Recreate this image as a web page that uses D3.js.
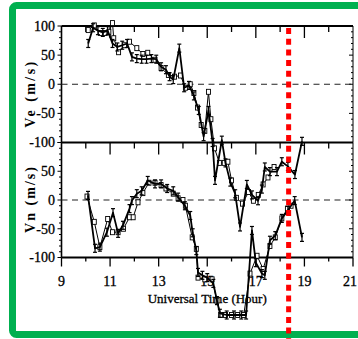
<!DOCTYPE html>
<html>
<head>
<meta charset="utf-8">
<script src="https://cdn.jsdelivr.net/npm/d3@7"></script>
<style>
  html, body { margin: 0; padding: 0; background: #fff; }
  svg { display: block; }
  text { font-family: "Liberation Serif", "Times New Roman", serif; fill: #000; }
</style>
</head>
<body>
<svg id="chart" width="358" height="339"></svg>
<script>
// Eastward velocity (Ve), series with error bars
const veAHours = [10.1, 10.3, 10.5, 10.7, 10.9, 11.1, 11.3, 11.5, 11.7, 11.9, 12.1, 12.3, 12.5, 12.7, 12.9,
  13.1, 13.3, 13.45, 13.6, 13.85, 14.05, 14.25, 14.45, 14.65, 14.85, 15.05, 15.22, 15.32, 15.6, 15.75,
  15.95, 16.15, 16.35, 16.63, 16.84, 17.09, 17.25, 17.37, 17.58, 17.87, 18.07, 18.32, 18.61, 18.9];
const veAValues = [70, 97, 92, 89, 92, 70, 64, 67, 70, 47, 44, 43, 43, 44, 43,
  30, 25, 13, 8, 62, -6, -2, -20, -45, -90, -45, -100, -165, -96, -135,
  -168, -188, -245, -172, -190, -200, -180, -142, -150, -150, -133, -141, -155, -98];

// Eastward velocity (Ve), series with square markers
const veBHours = [10.1, 10.35, 10.6, 10.8, 10.95, 11.1, 11.15, 11.35, 11.6, 11.8, 12.1, 12.35, 12.55, 12.85, 13.1,
  13.4, 13.65, 13.9, 14.1, 14.3, 14.45, 14.6, 14.75, 14.9, 15.05, 15.15, 15.3, 15.5, 15.7, 15.85,
  16.0, 16.2, 16.45, 16.7, 16.9, 17.1, 17.3, 17.5, 17.75];
const veBValues = [93, 101, 88, 88, 90, 105, 79, 55, 67, 73, 62, 52, 54, 42, 28,
  16, 13, 15, -6, 0, -15, -40, -70, -80, -13, -60, -110, -135, -135, -133,
  -165, -195, -205, -185, -200, -190, -172, -160, -142];

// Northward velocity (Vn), series with error bars
const vnAHours = [10.09, 10.38, 10.58, 10.87, 11.12, 11.33, 11.53, 11.8, 11.9, 12.1, 12.3, 12.55, 12.85, 13.1, 13.35,
  13.6, 13.8, 14.08, 14.3, 14.4, 14.55, 14.62, 14.8, 15.0, 15.25, 15.4, 15.52, 15.8, 16.1, 16.4,
  16.6, 16.84, 17.0, 17.25, 17.37, 17.58, 17.8, 18.07, 18.32, 18.6, 18.9];
const vnAValues = [8, -84, -82, -56, -22, -58, -44, -15, -1, 11, 16, 34, 28, 28, 20,
  16, 5, -10, -27, -57, -88, -126, -131, -135, -145, -175, -197, -200, -200, -200,
  -200, -53, -109, -128, -131, -70, -62, -32, -18, -1, -65];

// Northward velocity (Vn), series with square markers
const vnBHours = [10.05, 10.35, 10.58, 10.9, 11.1, 11.33, 11.55, 11.8, 11.95, 12.15, 12.35, 12.6, 12.85, 13.1, 13.3,
  13.6, 13.8, 14.0, 14.1, 14.38, 14.55, 14.62, 14.9, 15.2, 15.4, 15.55, 15.75, 16.0, 16.25, 16.5,
  16.76, 17.05, 17.3, 17.58, 17.8, 18.07, 18.3, 18.45];
const vnBValues = [6, -38, -82, -33, -56, -56, -50, -30, -30, -4, 12, 30, 30, 26, 20,
  11, 3, 0, -10, -65, -85, -135, -138, -138, -175, -200, -200, -200, -200, -200,
  -128, -97, -120, -80, -65, -32, -15, -10];

const xTickLabels = [9, 11, 13, 15, 17, 19, 21];
const veTickLabels = [100, 50, 0, -50, -100];
const vnTickLabels = [50, 0, -50, -100];
const markerHour = 18.35;

const svg = d3.select("#chart");
const GREEN = "#00b050";

// outer green frame (right side runs past the edge)
svg.append("rect")
  .attr("x", 12.5).attr("y", 5.5)
  .attr("width", 370).attr("height", 329)
  .attr("rx", 4)
  .attr("fill", "#fff")
  .attr("stroke", GREEN).attr("stroke-width", 7);

const x = d3.scaleLinear().domain([9, 21]).range([61.5, 353]);
const yVe = d3.scaleLinear().domain([-100, 100]).range([142.5, 26]);
const yVn = d3.scaleLinear().domain([-100, 100]).range([257.5, 142.5]);

const zip = (hs, vs) => hs.map((h, i) => [h, vs[i]]);

const allHours = d3.range(9, 22, 1);
const major = h => h % 2 === 1;

function panelFrame(y, topTickMajor, topTickMinor) {
  const g = svg.append("g");
  const top = y(100), bot = y(-100);
  // top border with inward ticks
  g.append("line").attr("x1", x(9)).attr("x2", x(21)).attr("y1", top).attr("y2", top)
    .attr("stroke", "#000").attr("stroke-width", 2);
  g.selectAll(".tt").data(allHours.filter(h => h > 9 && h < 21)).join("line")
    .attr("x1", d => x(d)).attr("x2", d => x(d))
    .attr("y1", top).attr("y2", d => top + (major(d) ? topTickMajor : topTickMinor))
    .attr("stroke", "#000").attr("stroke-width", 1.3);
  // left axis
  g.append("line").attr("x1", x(9)).attr("x2", x(9)).attr("y1", top).attr("y2", bot)
    .attr("stroke", "#000").attr("stroke-width", 1.6);
  // right border
  g.append("line").attr("x1", x(21)).attr("x2", x(21)).attr("y1", top).attr("y2", bot)
    .attr("stroke", "#000").attr("stroke-width", 1);
  const minor = d3.range(-100, 101, 10);
  g.selectAll(".lm").data(minor).join("line")
    .attr("x1", x(9)).attr("x2", d => x(9) - (d % 50 === 0 ? 4 : 2.5))
    .attr("y1", d => y(d)).attr("y2", d => y(d))
    .attr("stroke", "#000").attr("stroke-width", 1);
  g.selectAll(".rm").data(minor).join("line")
    .attr("x1", x(21)).attr("x2", d => x(21) - (d % 50 === 0 ? 4 : 2))
    .attr("y1", d => y(d)).attr("y2", d => y(d))
    .attr("stroke", "#000").attr("stroke-width", 1);
  // dashed zero line
  g.append("line").attr("x1", x(9)).attr("x2", x(21)).attr("y1", y(0)).attr("y2", y(0))
    .attr("stroke", "#222").attr("stroke-width", 1.2).attr("stroke-dasharray", "6,4.5");
  return g;
}

panelFrame(yVe, 12, 6);
panelFrame(yVn, 12, 6);

// bottom axis
svg.append("line").attr("x1", x(9)).attr("x2", x(21)).attr("y1", yVn(-100)).attr("y2", yVn(-100))
  .attr("stroke", "#000").attr("stroke-width", 2);
svg.selectAll(".bt").data(allHours).join("line")
  .attr("x1", d => x(d)).attr("x2", d => x(d))
  .attr("y1", yVn(-100)).attr("y2", d => yVn(-100) + (major(d) ? 9 : 4))
  .attr("stroke", "#000").attr("stroke-width", 1.3);

// tick labels
const tickText = sel => sel
  .attr("font-size", 14)
  .attr("stroke", "#000").attr("stroke-width", 0.3);

svg.selectAll(".vel").data(veTickLabels).join("text")
  .attr("x", 55).attr("y", d => yVe(d) + 4.8)
  .attr("text-anchor", "end")
  .call(tickText)
  .text(d => d);
svg.selectAll(".vnl").data(vnTickLabels).join("text")
  .attr("x", 55).attr("y", d => yVn(d) + 4.8)
  .attr("text-anchor", "end")
  .call(tickText)
  .text(d => d);
svg.selectAll(".xl").data(xTickLabels).join("text")
  .attr("x", d => Math.min(x(d), 350)).attr("y", 286)
  .attr("text-anchor", "middle")
  .call(tickText)
  .text(d => d);

// axis titles
svg.append("text")
  .attr("transform", `translate(35,${yVe(-18)}) rotate(-90)`)
  .attr("text-anchor", "middle").attr("font-size", 14).attr("font-weight", "bold")
  .attr("textLength", 66).attr("lengthAdjust", "spacing")
  .text("Ve (m/s)");
svg.append("text")
  .attr("transform", `translate(35,${yVn(0)}) rotate(-90)`)
  .attr("text-anchor", "middle").attr("font-size", 14).attr("font-weight", "bold")
  .attr("textLength", 66).attr("lengthAdjust", "spacing")
  .text("Vn (m/s)");
svg.append("text")
  .attr("x", x(15)).attr("y", 303)
  .attr("text-anchor", "middle").attr("font-size", 13)
  .attr("textLength", 119).attr("lengthAdjust", "spacingAndGlyphs")
  .attr("stroke", "#000").attr("stroke-width", 0.3)
  .text("Universal Time (Hour)");

// data series (not clipped; values beyond ±100 run past the panel)
function drawSeries(hours, values, y, style) {
  const pts = zip(hours, values);
  const line = d3.line().x(d => x(d[0])).y(d => y(d[1]));
  const g = svg.append("g");
  g.append("path").datum(pts).attr("d", line)
    .attr("fill", "none").attr("stroke", "#000")
    .attr("stroke-width", style === "bar" ? 1.8 : 1)
    .attr("stroke-linejoin", "round");
  if (style === "bar") {
    const m = g.selectAll(".m").data(pts).join("g")
      .attr("transform", d => `translate(${x(d[0])},${y(d[1])})`);
    m.append("line").attr("x1", 0).attr("x2", 0).attr("y1", -4).attr("y2", 4)
      .attr("stroke", "#000").attr("stroke-width", 1.2);
    m.append("line").attr("x1", -2).attr("x2", 2).attr("y1", -4).attr("y2", -4)
      .attr("stroke", "#000").attr("stroke-width", 1.2);
    m.append("line").attr("x1", -2).attr("x2", 2).attr("y1", 4).attr("y2", 4)
      .attr("stroke", "#000").attr("stroke-width", 1.2);
  } else {
    g.selectAll(".s").data(pts).join("rect")
      .attr("x", d => x(d[0]) - 2).attr("y", d => y(d[1]) - 2.5)
      .attr("width", 4).attr("height", 5)
      .attr("fill", "#fff").attr("stroke", "#000").attr("stroke-width", 0.9);
  }
}

drawSeries(veBHours, veBValues, yVe, "square");
drawSeries(veAHours, veAValues, yVe, "bar");
drawSeries(vnBHours, vnBValues, yVn, "square");
drawSeries(vnAHours, vnAValues, yVn, "bar");

// red dotted time marker
svg.append("line")
  .attr("x1", x(markerHour)).attr("x2", x(markerHour))
  .attr("y1", 28).attr("y2", 339)
  .attr("stroke", "#ff0000").attr("stroke-width", 5)
  .attr("stroke-dasharray", "6,4.7");
</script>
</body>
</html>
